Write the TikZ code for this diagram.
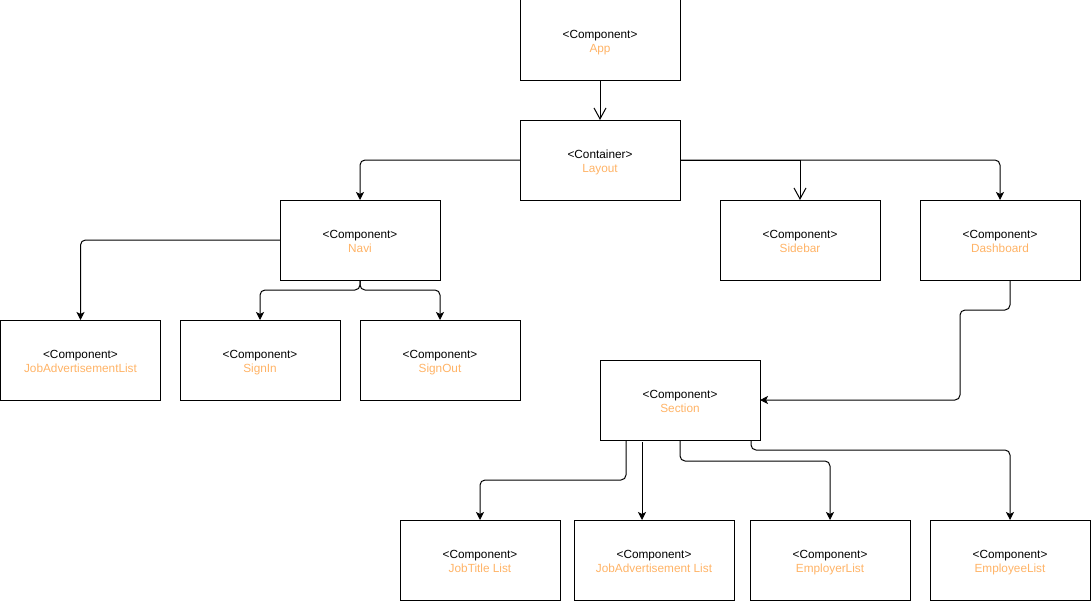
\documentclass[tikz,border=0pt]{standalone}
\usepackage{fontspec}
\setmainfont{Liberation Sans}
\usetikzlibrary{arrows.meta}
\definecolor{namecol}{HTML}{FFB366}
\tikzset{
  box/.style={draw=black, line width=1pt, minimum width=160pt, minimum height=80pt,
    inner sep=0pt, outer sep=0pt, font=\fontsize{11.8}{14}\selectfont},
  link/.style={draw=black, line width=1pt, rounded corners=5pt,
    -{Stealth[length=8pt,width=8pt,inset=2pt]}},
  openlink/.style={draw=black, line width=1pt,
    -{Straight Barb[length=11pt,width=12pt,line width=1pt]}},
}
% stereotype line above the coloured component name, set a little low in the box
\newcommand{\comp}[2]{\raisebox{-2.5pt}[\height][\depth]{%
  \begin{tabular}{@{}c@{}}#1\\\textcolor{namecol}{#2}\end{tabular}}}
\begin{document}
\begin{tikzpicture}[x=1pt, y=-1pt]
  \useasboundingbox (0,0) rectangle (1091,602);

  % top levels
  \node[box] (app)    at (600,40)  {\comp{<Component>}{App}};
  \node[box] (layout) at (600,160) {\comp{<Container>}{Layout}};

  % second level
  \node[box] (navi)    at (360,240)  {\comp{<Component>}{Navi}};
  \node[box] (sidebar) at (800,240)  {\comp{<Component>}{Sidebar}};
  \node[box] (dash)    at (1000,240) {\comp{<Component>}{Dashboard}};

  % navigation children
  \node[box] (jal)     at (80.5,360) {\comp{<Component>}{JobAdvertisementList}};
  \node[box] (signin)  at (260,360)  {\comp{<Component>}{SignIn}};
  \node[box] (signout) at (440,360)  {\comp{<Component>}{SignOut}};

  % dashboard section and its lists
  \node[box] (section) at (680,400) {\comp{<Component>}{Section}};
  \node[box] (jtl)  at (480,560)  {\comp{<Component>}{JobTitle List}};
  \node[box] (jadl) at (654,560)  {\comp{<Component>}{JobAdvertisement List}};
  \node[box] (empr) at (830,560)  {\comp{<Component>}{EmployerList}};
  \node[box] (empe) at (1010,560) {\comp{<Component>}{EmployeeList}};

  % connectors
  \draw[openlink] (app.south) -- (layout.north);
  \draw[link] (layout.west) -| (navi.north);
  \draw[openlink] (layout.east) -| (sidebar.north);
  \draw[link] (layout.east) -| (dash.north);

  \draw[link] (navi.west) -| (jal.north);
  \draw[link] (navi.south) -- ++(0,10) -| (signin.north);
  \draw[link] (navi.south) -- ++(0,10) -| (signout.north);

  \draw[link] ([xshift=10pt]dash.south) -- ++(0,30) -- ++(-50,0) |- (section.east);

  \draw[link] ([xshift=-54pt]section.south) -- ++(0,40) -| (jtl.north);
  \draw[link] ([xshift=-38pt,yshift=-2pt]section.south) -- ([xshift=-12pt]jadl.north);
  \draw[link] (section.south) -- ++(0,21) -| (empr.north);
  \draw[link] ([xshift=71pt]section.south) -- ++(0,10) -| (empe.north);
\end{tikzpicture}
\end{document}
